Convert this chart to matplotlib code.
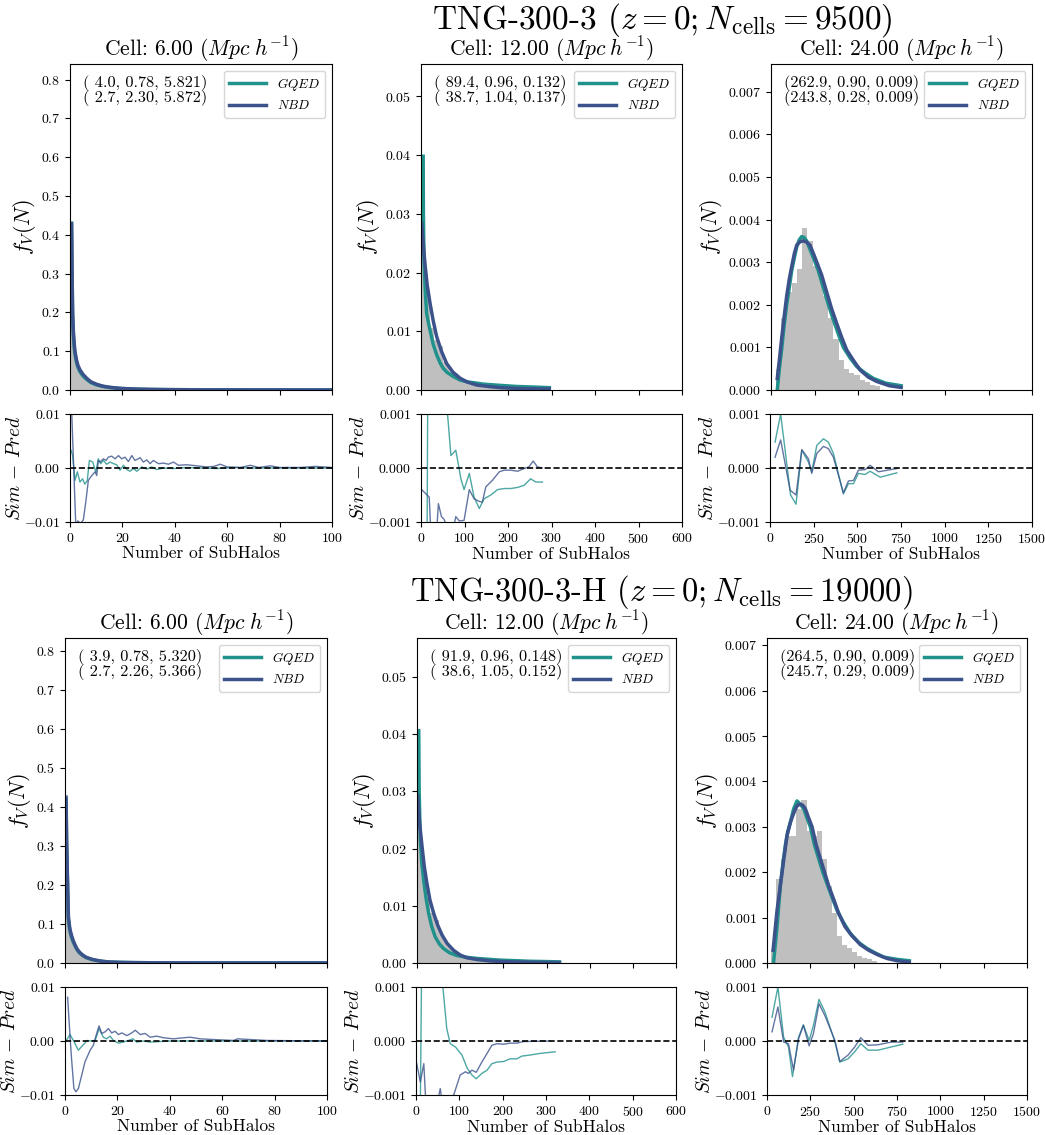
import matplotlib
matplotlib.use('Agg')
import matplotlib.pyplot as plt

plt.rcParams['font.family'] = 'serif'
plt.rcParams['font.serif'] = ['cmr10']
plt.rcParams['mathtext.fontset'] = 'cm'
plt.rcParams['axes.formatter.use_mathtext'] = True

GQED_COLOR = '#21918c'
NBD_COLOR = '#3b528b'

suptitles = [r"TNG-300-3 ($z=0; N_{\rm cells}=9500$)",
             r"TNG-300-3-H ($z=0; N_{\rm cells}=19000$)"]
cell_sizes = [6.00, 12.00, 24.00]

# ---------------- TNG-300-3, 6 Mpc/h ----------------
t6_edges = list(range(0, 31))
t6_hist = [0.21, 0.125, 0.08, 0.056, 0.042, 0.032, 0.025, 0.02, 0.016, 0.013,
           0.011, 0.0095, 0.008, 0.007, 0.006, 0.0052, 0.0046, 0.004, 0.0035, 0.003,
           0.0027, 0.0024, 0.0021, 0.0019, 0.0017, 0.0015, 0.0013, 0.0012, 0.0011, 0.001]
t6_x = [0.6, 0.8, 1.0, 1.3, 1.6, 1.9, 2.5, 3.0, 3.8, 5, 6.4, 8, 10.2, 12.5, 15.3, 19,
        24.2, 30, 37, 50, 70, 100]
t6_gqed = [0.43, 0.29, 0.19, 0.14, 0.11, 0.092, 0.071, 0.059, 0.047, 0.036, 0.027, 0.019,
           0.013, 0.0092, 0.0062, 0.0039, 0.0024, 0.0015, 0.001, 0.0005, 0.0002, 0.0001]
t6_nbd = [0.428, 0.30, 0.20, 0.15, 0.12, 0.099, 0.077, 0.064, 0.052, 0.04, 0.030, 0.021,
          0.0146, 0.010, 0.0069, 0.0043, 0.0026, 0.0016, 0.001, 0.0005, 0.0002, 0.0001]
t6_res_gqed_x = [0.4, 1.0, 1.9, 2.8, 3.8, 4.8, 5.7, 6.6, 7.4, 8.7, 9.9, 10.8, 11.7, 12.7,
                 14.0, 15.3, 16.6, 17.8, 19.1, 20.4, 21.7, 22.9, 24.2, 25.5, 27.4, 29.3,
                 31.2, 33.1, 35.7, 39.5, 44.6, 50, 56, 62.4, 70, 100]
t6_res_gqed = [0.0033, 0.0023, -0.0023, -0.0007, -0.0026, -0.002, -0.003, -0.0023, 0.0014,
               0.0011, -0.0008, 0.0017, 0.0008, 0.0014, 0.0007, 0.0011, 0.0008, 0.0006,
               -0.0004, 0.0005, -0.0003, -0.0006, -0.0001, -0.0006, 0.0002, -0.0002, 0.0002,
               -0.0003, 0.0, -0.0001, 0.0001, 0.0, -0.0001, 0.0001, 0.0, 0.0]
t6_res_nbd_x = [0.3, 2.2, 3.0, 4.0, 5.1, 6.1, 7.0, 8.3, 9.6, 10.2, 10.8, 11.5, 12.7, 13.8,
                14.6, 15.9, 17.2, 18.5, 19.7, 21.0, 22.3, 23.6, 24.8, 26.8, 28.0, 29.3,
                30.6, 31.8, 33.8, 35.7, 37.6, 39.5, 41.4, 44.6, 48.4, 52.0, 55.0, 57.3,
                60.0, 65.0, 68.8, 72.0, 76.4, 80.0, 88.0, 93.6, 100.0]
t6_res_nbd = [0.015, -0.0105, -0.0098, -0.0103, -0.0096, -0.006, -0.0023, -0.0014, -0.0007,
              -0.0014, 0.0014, 0.0011, 0.0017, 0.0014, 0.0020, 0.0022, 0.0017, 0.0023,
              0.0017, 0.0020, 0.0012, 0.0023, 0.0014, 0.0019, 0.0011, 0.0015, 0.0008,
              0.0014, 0.0008, 0.0009, 0.0007, 0.0011, 0.0005, 0.0006, 0.0004, 0.0002,
              0.0003, 0.0007, 0.0002, 0.0001, 0.0005, 0.0001, 0.0004, 0.0001, 0.0001,
              0.0003, 0.0001]

# ---------------- TNG-300-3, 12 Mpc/h ----------------
t12_edges = list(range(0, 290, 10))
t12_hist = [0.028, 0.0165, 0.0105, 0.0085, 0.0075, 0.0048, 0.004, 0.003, 0.0024, 0.0018,
            0.0012, 0.0009, 0.0007, 0.0006, 0.0005, 0.0004, 0.0004, 0.0003, 0.0003, 0.0003,
            0.0002, 0.0002, 0.0002, 0.0002, 0.0001, 0.0001, 0.0001, 0.0001]
t12_gqed_x = [5, 5.5, 7, 10, 13, 17, 20.7, 28, 36, 44, 51, 60, 74, 90, 105, 125, 143, 180,
              220, 260, 295]
t12_gqed = [0.0398, 0.030, 0.022, 0.0165, 0.013, 0.0115, 0.0102, 0.0078, 0.006, 0.0046,
            0.0037, 0.003, 0.0023, 0.0017, 0.0014, 0.0012, 0.001, 0.0008, 0.0006, 0.0005,
            0.0004]
t12_nbd_x = [1.5, 5, 9, 14, 20.7, 28, 36, 47, 59, 74, 90, 108, 128, 155, 182, 210, 236,
             265, 295]
t12_nbd = [0.0284, 0.025, 0.0216, 0.018, 0.0148, 0.0118, 0.0091, 0.0066, 0.0045, 0.003,
           0.002, 0.0013, 0.00085, 0.0006, 0.0004, 0.0003, 0.00023, 0.0002, 0.00017]
t12_res_gqed_x = [2, 13, 17, 40, 61, 68.8, 80, 91.7, 99, 111, 122, 134, 145, 160.5, 176,
                  191, 206, 222, 237, 252, 264, 279]
t12_res_gqed = [-0.004, -0.003, 0.004, 0.003, 0.001, 0.00023, 0.00033, -0.0002, -0.0004,
                -0.0001, -0.00054, -0.00075, -0.00057, -0.0005, -0.0004, -0.00038, -0.00038,
                -0.00036, -0.00032, -0.0002, -0.00026, -0.00026]
t12_res_nbd_x = [1.5, 19, 24, 35, 40, 47, 53, 60, 75, 80, 88, 99, 111, 122, 134, 141, 149,
                 164, 180, 191, 206, 222, 237, 248, 258, 267.6, 279]
t12_res_nbd = [-0.0004, -0.00054, -0.0015, -0.0013, -0.00066, -0.0009, -0.00095, -0.0011,
               -0.0011, -0.0009, -0.00098, -0.00097, -0.0004, -0.00057, -0.00062, -0.00063,
               -0.00035, -0.00023, -0.00007, -0.00004, -0.00004, -0.00006, -0.00001,
               0.00002, 0.00013, 0.00002, 0.0]

# ---------------- TNG-300-3, 24 Mpc/h ----------------
t24_edges = list(range(29, 630, 30))
t24_hist = [0.0005, 0.0017, 0.0023, 0.0025, 0.00285, 0.0038, 0.0035, 0.0029, 0.0027,
            0.0022, 0.0017, 0.0012, 0.0007, 0.0005, 0.0004, 0.00035, 0.00023, 0.00018,
            0.00012, 0.0001]
t24_gqed_x = [36, 48, 61, 75, 90, 105, 119, 134, 148, 162, 176, 190, 205, 224, 244, 272,
              301, 330, 359, 388, 416, 455, 493, 540, 589, 660, 748]
t24_gqed = [0.0, 0.0005, 0.00094, 0.0015, 0.002, 0.0024, 0.0028, 0.0031, 0.00336, 0.00352,
            0.0036, 0.00358, 0.0035, 0.0033, 0.0031, 0.0028, 0.0024, 0.002, 0.00164, 0.0013,
            0.001, 0.00075, 0.00055, 0.0004, 0.00027, 0.00016, 0.0001]
t24_nbd_x = [36, 48, 61, 75, 90, 105, 119, 134, 148, 167, 186, 205, 224, 244, 263, 291,
             320, 349, 378, 406, 435, 473, 512, 560, 608, 680, 748]
t24_nbd = [0.00027, 0.0007, 0.0012, 0.0017, 0.0022, 0.0026, 0.0029, 0.0032, 0.0034,
           0.00348, 0.0035, 0.00347, 0.0034, 0.0032, 0.003, 0.0027, 0.0023, 0.0019,
           0.00156, 0.00124, 0.00094, 0.0007, 0.00047, 0.0003, 0.0002, 0.0001, 0.00006]
t24_res_gqed_x = [29, 61, 118, 149, 182, 220, 239, 268, 306, 334, 363, 420, 449, 478, 506,
                  545, 573, 631, 726]
t24_res_gqed = [0.00048, 0.001, -0.0005, -0.00067, 0.00033, 0.00011, -0.00007, 0.00042,
                0.00054, 0.00048, 0.00027, -0.00048, -0.00029, -0.00029, -0.0001, -0.00012,
                -0.00006, -0.00017, -0.00009]
t24_res_nbd_x = [29, 61, 115, 149, 182, 220, 239, 268, 306, 334, 363, 420, 449, 478, 506,
                 545, 573, 621, 726]
t24_res_nbd = [0.0002, 0.00052, -0.00041, -0.0005, 0.00034, 0.00017, -0.0001, 0.00027,
               0.0004, 0.00036, 0.0002, -0.00046, -0.00024, -0.00023, -0.00004, -0.00003,
               0.00005, -0.00007, -0.00001]

# ---------------- TNG-300-3-H, 6 Mpc/h ----------------
b6_edges = list(range(0, 31))
b6_hist = [0.2, 0.12, 0.078, 0.055, 0.041, 0.031, 0.024, 0.019, 0.015, 0.012,
           0.0105, 0.009, 0.0076, 0.0066, 0.0057, 0.005, 0.0044, 0.0038, 0.0033, 0.0029,
           0.0026, 0.0023, 0.002, 0.0018, 0.0016, 0.0014, 0.0013, 0.0012, 0.0011, 0.001]
b6_x = [0.4, 0.6, 0.9, 1.3, 1.8, 2.3, 3.0, 3.6, 4.5, 5.5, 6.8, 8, 10, 11.9, 14, 17, 21,
        26, 35, 50, 70, 100]
b6_gqed = [0.42, 0.31, 0.22, 0.112, 0.085, 0.07, 0.056, 0.047, 0.035, 0.026, 0.019, 0.014,
           0.0095, 0.0066, 0.0043, 0.0025, 0.0015, 0.001, 0.0005, 0.0002, 0.0001, 0.0001]
b6_nbd = [0.425, 0.32, 0.23, 0.118, 0.09, 0.075, 0.06, 0.05, 0.037, 0.028, 0.02, 0.015,
          0.01, 0.007, 0.0045, 0.0026, 0.0016, 0.001, 0.0005, 0.0002, 0.0001, 0.0001]
b6_res_gqed_x = [0.4, 1.9, 3.2, 5.1, 6.8, 8.5, 9.8, 11.5, 13.0, 14.6, 15.9, 17.2, 18.5,
                 20.4, 22.3, 24.2, 25.9, 27.4, 30, 32.5, 40, 60, 100]
b6_res_gqed = [0.0, 0.0012, 0.0001, -0.0017, -0.0008, 0.0001, 0.0, 0.0001, 0.0023, 0.0007,
               0.0004, 0.0009, 0.0001, -0.0004, -0.0002, 0.0001, 0.0004, -0.0002, 0.0,
               -0.0002, 0.0, 0.0, 0.0]
b6_res_nbd_x = [1.0, 1.9, 2.5, 3.4, 4.2, 5.1, 6.4, 7.6, 9.6, 10.8, 12.1, 13.0, 14.0, 15.3,
                16.6, 17.8, 19.1, 20.4, 21.7, 23.6, 25.5, 26.8, 28.7, 30.6, 32.5, 35.0,
                37.6, 41.4, 45.2, 47.8, 51.6, 55.4, 64.3, 65.9, 77, 100]
b6_res_nbd = [0.0081, 0.001, -0.0033, -0.0088, -0.0094, -0.0088, -0.0063, -0.0039, -0.0017,
              -0.0008, 0.0014, 0.0028, 0.0014, 0.0017, 0.0023, 0.0015, 0.0018, 0.0012,
              0.0015, 0.001, 0.0015, 0.002, 0.0012, 0.0014, 0.0007, 0.0009, 0.0006, 0.0004,
              0.0006, 0.0007, 0.0004, 0.0003, 0.0001, 0.0004, 0.0001, 0.0]

# ---------------- TNG-300-3-H, 12 Mpc/h ----------------
b12_edges = list(range(0, 340, 10))
b12_hist = [0.0285, 0.0165, 0.011, 0.0088, 0.0075, 0.0052, 0.004, 0.003, 0.0022, 0.0016,
            0.0011, 0.0009, 0.0007, 0.0006, 0.0005, 0.0004, 0.0004, 0.0003, 0.0003, 0.0003,
            0.0002, 0.0002, 0.0002, 0.0002, 0.0001, 0.0001, 0.0001, 0.0001, 0.0001, 0.0001,
            0.0001, 0.0001, 0.0001]
b12_gqed_x = [4, 5, 7.7, 11, 15.4, 21, 27, 34, 42, 52, 62, 75, 92.5, 115, 139, 165, 193,
              230, 262, 300, 330]
b12_gqed = [0.0406, 0.03, 0.0216, 0.0175, 0.0145, 0.0113, 0.0087, 0.0064, 0.0046, 0.0033,
            0.0025, 0.0018, 0.0013, 0.001, 0.0008, 0.00065, 0.0005, 0.0004, 0.0003,
            0.00025, 0.0002]
b12_nbd_x = [1.5, 6, 11.6, 17, 23, 30, 38.5, 48, 58, 70, 85, 100, 116, 140, 170, 200, 231,
             280, 330]
b12_nbd = [0.0292, 0.0245, 0.0204, 0.0168, 0.0139, 0.011, 0.0087, 0.0066, 0.0049, 0.0034,
           0.0022, 0.0014, 0.0009, 0.0006, 0.00035, 0.00025, 0.00018, 0.0001, 0.00006]
b12_res_gqed_x = [2, 10, 16, 40, 62, 71, 79, 91, 106, 118, 129, 139, 152, 164, 175, 187,
                  202, 217, 233, 244, 263, 286, 321]
b12_res_gqed = [-0.0015, -0.0012, 0.004, 0.004, 0.001, 0.00023, -0.00005, -0.00011,
                -0.00026, -0.0005, -0.00063, -0.0007, -0.0006, -0.00054, -0.00042, -0.00039,
                -0.00038, -0.00033, -0.00033, -0.00028, -0.00026, -0.00023, -0.0002]
b12_res_nbd_x = [1, 10, 18, 25, 45, 56, 60, 87, 102, 114, 121, 129, 139, 152, 164, 175,
                 187, 202, 217, 233, 248, 310]
b12_res_nbd = [-0.00039, -0.00076, -0.00042, -0.0015, -0.0013, -0.00088, -0.0011, -0.001,
               -0.00063, -0.00057, -0.0006, -0.00054, -0.00058, -0.00039, -0.00023,
               -0.00008, -0.00005, -0.00006, -0.00004, -0.00004, -0.00001, 0.0]

# ---------------- TNG-300-3-H, 24 Mpc/h ----------------
b24_edges = list(range(25, 640, 29))
b24_hist = [0.0003, 0.00185, 0.0023, 0.0028, 0.0028, 0.0034, 0.0036, 0.0029, 0.0028,
            0.0029, 0.0023, 0.0017, 0.0011, 0.0006, 0.0004, 0.00034, 0.00025, 0.00015,
            0.00012, 0.00008, 0.00005]
b24_gqed_x = [38, 58, 77, 92, 106, 120, 135, 154, 173, 192, 212, 230, 250, 274, 298, 322,
              346, 375, 404, 440, 481, 530, 577, 625, 673, 750, 821]
b24_gqed = [0.00002, 0.0008, 0.0017, 0.0022, 0.0026, 0.0029, 0.0031, 0.0034, 0.00357,
            0.0035, 0.0034, 0.0032, 0.003, 0.0026, 0.0023, 0.002, 0.00175, 0.00145, 0.00116,
            0.0009, 0.00065, 0.00045, 0.00032, 0.00022, 0.00013, 0.00008, 0.00005]
b24_nbd_x = [35, 58, 87, 115, 135, 154, 171, 188, 205, 221, 240, 260, 284, 308, 332, 356,
             385, 413, 450, 490, 540, 587, 640, 692, 750, 821]
b24_nbd = [0.00028, 0.00116, 0.002, 0.0028, 0.0031, 0.0033, 0.00345, 0.0035, 0.00348,
           0.0034, 0.0032, 0.003, 0.0026, 0.0023, 0.002, 0.0017, 0.0014, 0.0011, 0.0008,
           0.0006, 0.0004, 0.00028, 0.00018, 0.0001, 0.00005, 0.00002]
b24_res_gqed_x = [29, 63, 96, 124, 147, 182, 210, 243, 268, 300, 334, 392, 420, 468, 506,
                  541, 583, 640, 717, 783]
b24_res_gqed = [0.00044, 0.001, 0.00007, -0.00011, -0.00066, 0.00007, 0.0003, 0.00001,
                0.00029, 0.00077, 0.00054, -0.00002, -0.00039, -0.00033, -0.0002, -0.00005,
                -0.00017, -0.00017, -0.00011, -0.00006]
b24_res_nbd_x = [29, 63, 96, 124, 153, 182, 210, 243, 268, 300, 334, 392, 420, 468, 506,
                 541, 583, 640, 717, 783]
b24_res_nbd = [0.00017, 0.00063, -0.00002, -0.00005, -0.00054, 0.00004, 0.00029, -0.00009,
               0.00014, 0.00069, 0.00047, 0.00001, -0.00038, -0.00026, -0.00011, 0.00006,
               -0.00008, -0.00007, -0.00002, -0.00002]

fit_labels = [
    "( 4.0, 0.78, 5.821)\n( 2.7, 2.30, 5.872)",
    "( 89.4, 0.96, 0.132)\n( 38.7, 1.04, 0.137)",
    "(262.9, 0.90, 0.009)\n(243.8, 0.28, 0.009)",
    "( 3.9, 0.78, 5.320)\n( 2.7, 2.26, 5.366)",
    "( 91.9, 0.96, 0.148)\n( 38.6, 1.05, 0.152)",
    "(264.5, 0.90, 0.009)\n(245.7, 0.29, 0.009)",
]

x_limits = [100, 600, 1500]
x_ticks = [range(0, 101, 20), range(0, 601, 100), range(0, 1501, 250)]
y_tops = [0.84, 0.0555, 0.00765, 0.833, 0.0568, 0.00716]
y_ticks = [[i / 10 for i in range(9)], [i / 100 for i in range(6)], [i / 1000 for i in range(8)]]
res_lims = [0.01, 0.001, 0.001]

panels = [
    (t6_edges, t6_hist, t6_x, t6_gqed, t6_x, t6_nbd,
     t6_res_gqed_x, t6_res_gqed, t6_res_nbd_x, t6_res_nbd),
    (t12_edges, t12_hist, t12_gqed_x, t12_gqed, t12_nbd_x, t12_nbd,
     t12_res_gqed_x, t12_res_gqed, t12_res_nbd_x, t12_res_nbd),
    (t24_edges, t24_hist, t24_gqed_x, t24_gqed, t24_nbd_x, t24_nbd,
     t24_res_gqed_x, t24_res_gqed, t24_res_nbd_x, t24_res_nbd),
    (b6_edges, b6_hist, b6_x, b6_gqed, b6_x, b6_nbd,
     b6_res_gqed_x, b6_res_gqed, b6_res_nbd_x, b6_res_nbd),
    (b12_edges, b12_hist, b12_gqed_x, b12_gqed, b12_nbd_x, b12_nbd,
     b12_res_gqed_x, b12_res_gqed, b12_res_nbd_x, b12_res_nbd),
    (b24_edges, b24_hist, b24_gqed_x, b24_gqed, b24_nbd_x, b24_nbd,
     b24_res_gqed_x, b24_res_gqed, b24_res_nbd_x, b24_res_nbd),
]

# axes boxes in pixels: left, top, right, bottom
W, H = 1045, 1135
main_boxes = [(70, 64, 332, 390), (421, 64, 682, 390), (771, 64, 1032, 390),
              (65, 638, 327, 963), (417, 638, 676, 963), (767, 638, 1027, 963)]
res_boxes = [(70, 414, 332, 522), (421, 414, 682, 522), (770, 414, 1032, 522),
             (65, 987, 327, 1095), (416, 987, 676, 1095), (767, 987, 1027, 1095)]


def box(b):
    l, t, r, btm = b
    return [l / W, 1 - btm / H, (r - l) / W, (btm - t) / H]


fig = plt.figure(figsize=(W / 100, H / 100), dpi=100)
fig.text(662 / W, 1 - 1 / H, suptitles[0], ha='center', va='top', fontsize=24)
fig.text(661 / W, 1 - 573 / H, suptitles[1], ha='center', va='top', fontsize=23.5)

for i, p in enumerate(panels):
    col = i % 3
    edges, hist, gx, gy, nx, ny, rgx, rgy, rnx, rny = p

    ax = fig.add_axes(box(main_boxes[i]))
    ax.stairs(hist, edges, fill=True, color='gray', alpha=0.5, lw=0)
    ax.plot(gx, gy, color=GQED_COLOR, lw=2.5, label=r'$GQED$')
    ax.plot(nx, ny, color=NBD_COLOR, lw=2.5, label=r'$NBD$')
    ax.set_xlim(0, x_limits[col])
    ax.set_ylim(0, y_tops[i])
    ax.set_xticks(list(x_ticks[col]))
    ax.set_xticklabels([])
    ax.set_yticks(y_ticks[col])
    ax.tick_params(labelsize=10)
    ax.set_ylabel(r'$f_V(N)$', fontsize=16, labelpad=2)
    ax.set_title(r'Cell: %.2f ($Mpc\;h^{-1}$)' % cell_sizes[col], fontsize=15.5, pad=4)
    ax.text(0.05, 0.965, fit_labels[i], transform=ax.transAxes, ha='left', va='top',
            fontsize=11.7, linespacing=0.88)
    ax.legend(loc='upper right', fontsize=9.5, handlelength=2.8)

    rax = fig.add_axes(box(res_boxes[i]))
    rax.plot(rgx, rgy, color=GQED_COLOR, lw=1, alpha=0.8)
    rax.plot(rnx, rny, color=NBD_COLOR, lw=1, alpha=0.8)
    rax.axhline(0, color='black', ls='--', lw=1.2)
    rax.set_xlim(0, x_limits[col])
    rax.set_ylim(-res_lims[col], res_lims[col])
    rax.set_xticks(list(x_ticks[col]))
    rax.set_yticks([-res_lims[col], 0, res_lims[col]])
    rax.tick_params(labelsize=10)
    rax.set_ylabel(r'$Sim\,-\,Pred$', fontsize=14, labelpad=0)
    rax.set_xlabel('Number of SubHalos', fontsize=12.5, labelpad=1)

fig.savefig('out.png', dpi=100)
